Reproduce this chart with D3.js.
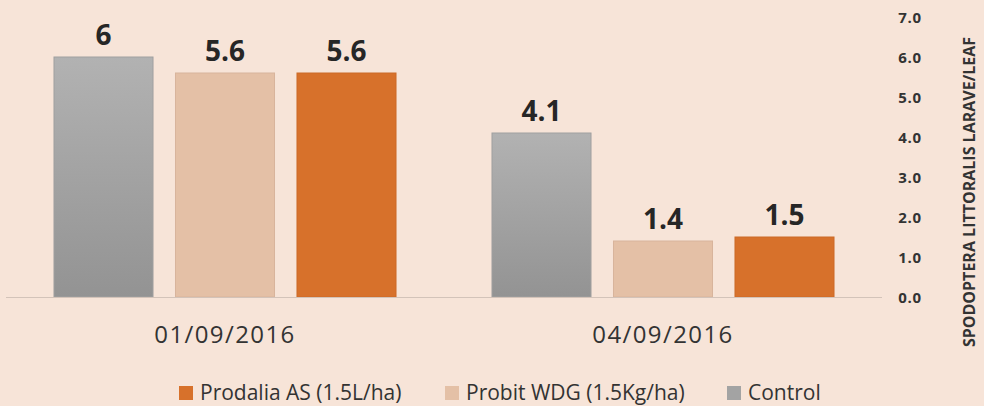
<!DOCTYPE html>
<html>
<head>
<meta charset="utf-8">
<script src="https://cdn.jsdelivr.net/npm/d3@7"></script>
<style>
  body { margin: 0; background: #f7e4d8; }
  svg { display: block; font-family: "Open Sans", sans-serif; }
</style>
</head>
<body>
<div id="graph"></div>
<script>
const dates = ["01/09/2016", "04/09/2016"];
const series = ["Control", "Probit WDG (1.5Kg/ha)", "Prodalia AS (1.5L/ha)"];
const control = [6, 4.1];
const probit = [5.6, 1.4];
const prodalia = [5.6, 1.5];
const valueLabels = [["6", "4.1"], ["5.6", "1.4"], ["5.6", "1.5"]];
const legendOrder = ["Prodalia AS (1.5L/ha)", "Probit WDG (1.5Kg/ha)", "Control"];
const yTicks = [0, 1, 2, 3, 4, 5, 6, 7];

const svgWidth = 984;
const svgHeight = 406;

const svg = d3.select('#graph')
  .append('svg')
  .attr('width', svgWidth)
  .attr('height', svgHeight);

const defs = svg.append('defs');
const grad = defs.append('linearGradient')
  .attr('id', 'grey')
  .attr('x1', 0).attr('y1', 0).attr('x2', 0).attr('y2', 1);
grad.append('stop').attr('offset', '0%').attr('stop-color', '#b2b2b2');
grad.append('stop').attr('offset', '100%').attr('stop-color', '#939393');

const fills = {
  "Control": "url(#grey)",
  "Probit WDG (1.5Kg/ha)": "#e4c0a6",
  "Prodalia AS (1.5L/ha)": "#d7712b"
};
const strokes = {
  "Control": "#a0a0a0",
  "Probit WDG (1.5Kg/ha)": "#d8b49c",
  "Prodalia AS (1.5L/ha)": "#cc6a28"
};
const legendFills = {
  "Control": "#a3a3a3",
  "Probit WDG (1.5Kg/ha)": "#e4c0a6",
  "Prodalia AS (1.5L/ha)": "#d7712b"
};

// scales
const x0 = d3.scaleBand()
  .domain(dates)
  .range([6, 882])
  .padding(0);

const x1 = d3.scaleBand()
  .domain(series)
  .range([0, x0.bandwidth()])
  .paddingInner(0.185)
  .paddingOuter(0.395);

const y = d3.scaleLinear()
  .domain([0, 7])
  .range([297, 17]);

const valuesBySeries = [control, probit, prodalia];

// bars + value labels
series.forEach((s, si) => {
  const g = svg.append('g');
  g.selectAll('rect')
    .data(valuesBySeries[si])
    .enter()
    .append('rect')
    .attr('x', (d, i) => x0(dates[i]) + x1(s))
    .attr('y', d => y(d))
    .attr('width', x1.bandwidth())
    .attr('height', d => y(0) - y(d))
    .attr('fill', fills[s])
    .attr('stroke', strokes[s])
    .attr('stroke-width', 1);

  g.selectAll('text')
    .data(valuesBySeries[si])
    .enter()
    .append('text')
    .attr('x', (d, i) => x0(dates[i]) + x1(s) + x1.bandwidth() / 2)
    .attr('y', d => y(d) - 12)
    .attr('text-anchor', 'middle')
    .attr('font-size', '28px')
    .attr('font-weight', 'bold')
    .attr('fill', '#262626')
    .text((d, i) => valueLabels[si][i]);
});

// baseline
svg.append('line')
  .attr('x1', 6).attr('x2', 882)
  .attr('y1', y(0) + 0.5).attr('y2', y(0) + 0.5)
  .attr('stroke', '#d3c3b9')
  .attr('stroke-width', 1);

// category labels
svg.selectAll('.cat')
  .data(dates)
  .enter()
  .append('text')
  .attr('class', 'cat')
  .attr('x', d => x0(d) + x0.bandwidth() / 2)
  .attr('y', 343)
  .attr('text-anchor', 'middle')
  .attr('font-size', '24px')
  .attr('letter-spacing', '1.4px')
  .attr('fill', '#333')
  .text(d => d);

// y axis on the right
const yAxis = svg.append('g')
  .attr('transform', 'translate(922,0)')
  .call(d3.axisRight(y).tickValues(yTicks).tickFormat(d3.format('.1f')).tickSize(0).tickPadding(0));
yAxis.select('.domain').remove();
yAxis.selectAll('text')
  .attr('text-anchor', 'end')
  .attr('dy', '0.35em')
  .attr('font-family', '"Open Sans", sans-serif')
  .attr('font-size', '15px')
  .attr('letter-spacing', '0.8px')
  .attr('font-weight', 'bold')
  .attr('fill', '#333');

svg.append('text')
  .attr('transform', 'translate(975,192) rotate(-90)')
  .attr('text-anchor', 'middle')
  .attr('font-size', '16px')
  .attr('font-weight', 'bold')
  .attr('fill', '#333')
  .text('SPODOPTERA LITTORALIS LARAVE/LEAF');

// legend
const legendX = [179, 445, 727];
const legend = svg.selectAll('.legend')
  .data(legendOrder)
  .enter()
  .append('g')
  .attr('class', 'legend')
  .attr('transform', (d, i) => `translate(${legendX[i]},386)`);
legend.append('rect')
  .attr('width', 14).attr('height', 14)
  .attr('fill', d => legendFills[d]);
legend.append('text')
  .attr('x', 21)
  .attr('y', 14)
  .attr('font-size', '21px')
  .attr('fill', '#333')
  .text(d => d);
</script>
</body>
</html>
